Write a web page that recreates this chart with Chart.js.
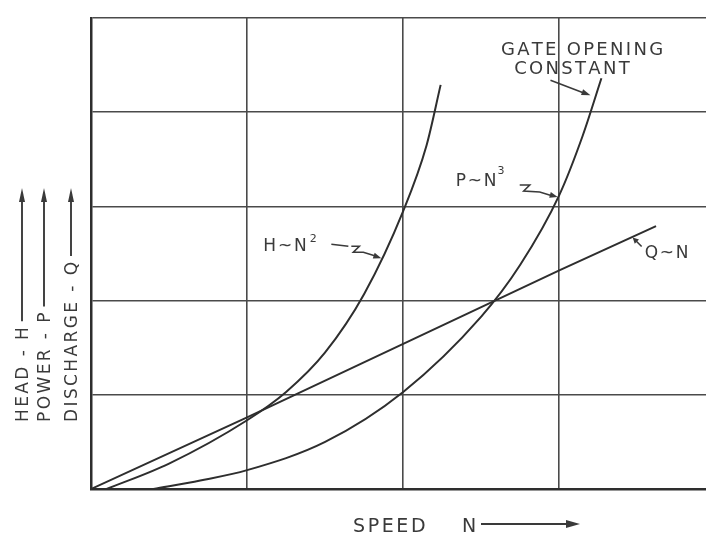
<!DOCTYPE html>
<html>
<head>
<meta charset="utf-8">
<script src="https://cdn.jsdelivr.net/npm/chart.js@4.4.1/dist/chart.umd.min.js"></script>
<style>
  html, body { margin: 0; padding: 0; background: #fff; }
  canvas { display: block; }
</style>
</head>
<body>
<canvas id="grafico" width="706" height="533"></canvas>
<script>
// values (speed in grid divisions, H / P / Q in grid divisions)
var speedQ = [0, 1.0, 2.0, 3.0, 3.62];
var dischargeQ = [0, 0.76, 1.54, 2.32, 2.79];

var speedH = [0.1, 0.5, 1.0, 1.25, 1.5, 1.75, 2.0, 2.15, 2.24];
var headH = [0, 0.27, 0.73, 1.03, 1.45, 2.07, 2.95, 3.65, 4.29];

var speedP = [0.4, 0.7, 1.0, 1.5, 2.0, 2.5, 2.75, 3.0, 3.15, 3.27];
var powerP = [0, 0.09, 0.2, 0.5, 1.03, 1.83, 2.38, 3.12, 3.75, 4.36];

var xGridTicks = [0, 1, 2, 3];
var yGridTicks = [0, 1, 2, 3, 4, 5];

var yTitles = ['HEAD - H', 'POWER - P', 'DISCHARGE - Q'];
var xTitle = ['SPEED', 'N'];
var curveNames = ['H~N', 'P~N', 'Q~N'];
var curvePowers = ['2', '3', ''];
var noteLines = ['GATE OPENING', 'CONSTANT'];

var ink = '#2e2e2e';
var textInk = '#3a3a3a';
var fuente = '"DejaVu Sans", sans-serif';

function puntos(xs, ys) {
  return xs.map(function (v, i) { return { x: v, y: ys[i] }; });
}

function anchoEspaciado(ctx, s, sp) {
  var w = 0;
  for (var i = 0; i < s.length; i++) w += ctx.measureText(s[i]).width + sp;
  return w - sp;
}

function textoEspaciado(ctx, s, x, y, sp, align) {
  var w = anchoEspaciado(ctx, s, sp);
  var cx = align === 'center' ? x - w / 2 : (align === 'right' ? x - w : x);
  ctx.textAlign = 'left';
  for (var i = 0; i < s.length; i++) {
    ctx.fillText(s[i], cx, y);
    cx += ctx.measureText(s[i]).width + sp;
  }
  return cx - sp;
}

function punta(ctx, x1, y1, x2, y2, len, half) {
  var a = Math.atan2(y2 - y1, x2 - x1);
  ctx.beginPath();
  ctx.moveTo(x2, y2);
  ctx.lineTo(x2 - len * Math.cos(a) + half * Math.sin(a), y2 - len * Math.sin(a) - half * Math.cos(a));
  ctx.lineTo(x2 - len * Math.cos(a) - half * Math.sin(a), y2 - len * Math.sin(a) + half * Math.cos(a));
  ctx.closePath();
  ctx.fill();
}

function trazo(ctx, pts) {
  ctx.beginPath();
  ctx.moveTo(pts[0][0], pts[0][1]);
  for (var i = 1; i < pts.length; i++) ctx.lineTo(pts[i][0], pts[i][1]);
  ctx.stroke();
}

var rotulos = {
  id: 'rotulos',
  afterDraw: function (chart) {
    var ctx = chart.ctx;
    var sx = chart.scales.x, sy = chart.scales.y;
    var X = function (v) { return sx.getPixelForValue(v); };
    var Y = function (v) { return sy.getPixelForValue(v); };
    ctx.save();
    ctx.fillStyle = textInk;
    ctx.strokeStyle = textInk;
    ctx.lineWidth = 1.6;
    ctx.textBaseline = 'alphabetic';

    // vertical titles with arrows
    var colX = [28, 50, 77];
    var baseY = 422, topY = 188;
    for (var i = 0; i < yTitles.length; i++) {
      ctx.save();
      ctx.translate(colX[i], baseY);
      ctx.rotate(-Math.PI / 2);
      ctx.font = '17px ' + fuente;
      var fin = textoEspaciado(ctx, yTitles[i], 0, 0, 2.4, 'left');
      ctx.lineWidth = 1.9;
      trazo(ctx, [[fin + 6, -6], [baseY - topY - 8, -6]]);
      punta(ctx, fin + 6, -6, baseY - topY, -6, 14, 3);
      ctx.restore();
    }

    // bottom title
    ctx.font = '19px ' + fuente;
    textoEspaciado(ctx, xTitle[0], 353, 532, 2.6, 'left');
    textoEspaciado(ctx, xTitle[1], 462, 532, 0, 'left');
    ctx.lineWidth = 1.9;
    trazo(ctx, [[481, 524], [568, 524]]);
    punta(ctx, 560, 524, 580, 524, 14, 4);

    // gate opening note
    ctx.font = '18px ' + fuente;
    textoEspaciado(ctx, noteLines[0], 582, 55, 2.3, 'center');
    textoEspaciado(ctx, noteLines[1], 572, 74, 2.3, 'center');
    var gx = X(3.2), gy = Y(4.18);
    ctx.lineWidth = 1.6;
    trazo(ctx, [[gx - 40, gy - 15], [gx - 6, gy - 2]]);
    punta(ctx, gx - 40, gy - 15, gx, gy, 9, 3);

    // H ~ N^2
    var hx = X(1.86), hy = Y(2.45);
    ctx.font = '17px ' + fuente;
    var finH = textoEspaciado(ctx, curveNames[0], hx - 118, hy - 7, 1.8, 'left');
    ctx.font = '11px ' + fuente;
    ctx.fillText(curvePowers[0], finH + 3, hy - 16);
    trazo(ctx, [[hx - 50, hy - 14], [hx - 33, hy - 12]]);
    trazo(ctx, [[hx - 30, hy - 12], [hx - 22, hy - 12], [hx - 28, hy - 6], [hx - 18, hy - 6], [hx - 5, hy - 2]]);
    punta(ctx, hx - 18, hy - 6, hx, hy, 8, 3);

    // P ~ N^3
    var px = X(2.99), py = Y(3.1);
    ctx.font = '17px ' + fuente;
    var finP = textoEspaciado(ctx, curveNames[1], px - 102, py - 11, 1.8, 'left');
    ctx.font = '11px ' + fuente;
    ctx.fillText(curvePowers[1], finP + 1, py - 23);
    trazo(ctx, [[px - 38, py - 12], [px - 28, py - 12], [px - 34, py - 6], [px - 18, py - 5], [px - 5, py - 1]]);
    punta(ctx, px - 18, py - 5, px, py, 8, 3);

    // Q ~ N
    var qx = X(3.47), qy = Y(2.67);
    ctx.font = '17px ' + fuente;
    textoEspaciado(ctx, curveNames[2], qx + 12, qy + 21, 1.8, 'left');
    trazo(ctx, [[qx + 9, qy + 9], [qx + 3, qy + 3]]);
    punta(ctx, qx + 9, qy + 9, qx, qy, 6, 3);

    ctx.restore();
  }
};

var ctx = document.getElementById('grafico');

var grafico = new Chart(ctx, {
  type: 'scatter',
  plugins: [rotulos],
  data: {
    datasets: [
      {
        label: 'Q~N',
        data: puntos(speedQ, dischargeQ),
        showLine: true,
        borderColor: ink,
        borderWidth: 2,
        pointRadius: 0,
        tension: 0
      },
      {
        label: 'H~N2',
        data: puntos(speedH, headH),
        showLine: true,
        borderColor: ink,
        borderWidth: 2,
        pointRadius: 0,
        cubicInterpolationMode: 'monotone'
      },
      {
        label: 'P~N3',
        data: puntos(speedP, powerP),
        showLine: true,
        borderColor: ink,
        borderWidth: 2,
        pointRadius: 0,
        cubicInterpolationMode: 'monotone'
      }
    ]
  },
  options: {
    responsive: false,
    animation: false,
    events: [],
    layout: {
      padding: { left: 91, top: 18, right: 0, bottom: 44 }
    },
    plugins: {
      legend: { display: false },
      tooltip: { enabled: false }
    },
    scales: {
      x: {
        type: 'linear',
        min: 0,
        max: 3.94,
        afterBuildTicks: function (scale) {
          scale.ticks = xGridTicks.map(function (v) { return { value: v }; });
        },
        ticks: { display: false },
        grid: { color: '#4a4a4a', lineWidth: 1.6, drawTicks: false },
        border: { color: ink, width: 2.5 }
      },
      y: {
        type: 'linear',
        min: 0,
        max: 5,
        afterBuildTicks: function (scale) {
          scale.ticks = yGridTicks.map(function (v) { return { value: v }; });
        },
        ticks: { display: false },
        grid: { color: '#4a4a4a', lineWidth: 1.6, drawTicks: false },
        border: { color: ink, width: 2.5 }
      }
    }
  }
});
</script>
</body>
</html>
